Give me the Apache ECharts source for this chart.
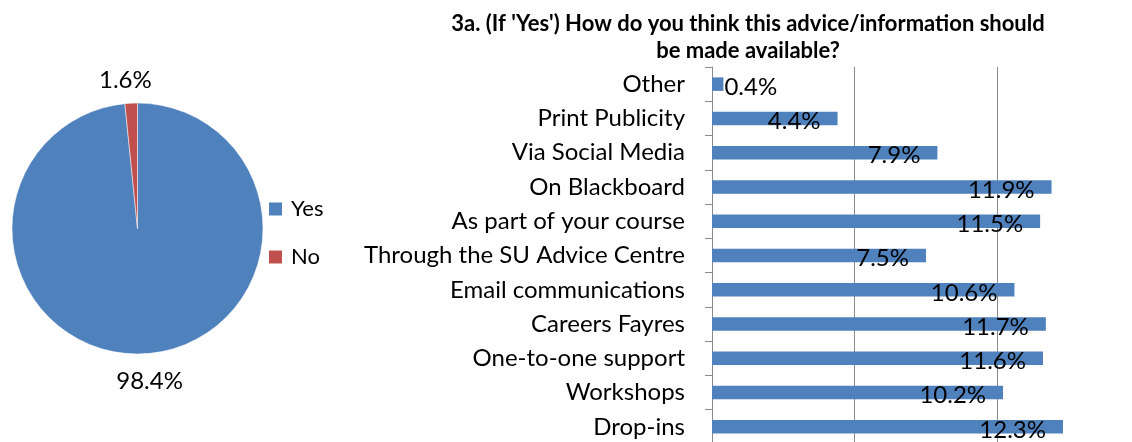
<!DOCTYPE html>
<html>
<head>
<meta charset="utf-8">
<script src="https://cdn.jsdelivr.net/npm/echarts@6/dist/echarts.min.js"></script>
<style>
  html, body { margin: 0; padding: 0; background: #fff; }
  #chart { width: 1132px; height: 442px; }
</style>
</head>
<body>
<div id="chart"></div>
<script>
// Pie: did respondents want the advice/information?
const pieNames = ['Yes', 'No'];
const pieValues = [98.4, 1.6];
const pieColors = ['#4F81BD', '#C0504D'];

// Bar: preferred ways of making it available (top to bottom)
const categories = [
  'Other', 'Print Publicity', 'Via Social Media', 'On Blackboard',
  'As part of your course', 'Through the SU Advice Centre',
  'Email communications', 'Careers Fayres', 'One-to-one support',
  'Workshops', 'Drop-ins'
];
const shares = [0.4, 4.4, 7.9, 11.9, 11.5, 7.5, 10.6, 11.7, 11.6, 10.2, 12.3];

const titleLines = [
  "3a. (If 'Yes') How do you think this advice/information should",
  'be made available?'
];

const FONT = 'Lato, "Liberation Sans", sans-serif';
const AXIS_GREY = '#8A8A8A';
const PIE_CENTER = [137.5, 228.5];
const PIE_RADIUS = 125.5;

// Place each pie label just beyond the rim, along the middle of its slice
function pieLabelPosition(idx) {
  const total = pieValues.reduce((a, b) => a + b, 0);
  let before = 0;
  for (let i = 0; i < idx; i++) before += pieValues[i];
  const midFrac = (before + pieValues[idx] / 2) / total;
  const ang = midFrac * 2 * Math.PI; // clockwise from 12 o'clock
  const d = PIE_RADIUS + 25;
  return {
    x: PIE_CENTER[0] + Math.sin(ang) * d * 1.6,
    y: PIE_CENTER[1] - Math.cos(ang) * d + 2
  };
}

const chart = echarts.init(document.getElementById('chart'), null, { renderer: 'canvas' });

chart.setOption({
  animation: false,
  backgroundColor: '#fff',
  textStyle: { fontFamily: FONT },
  title: {
    text: titleLines.join('\n'),
    left: 748,
    top: 10,
    textAlign: 'center',
    padding: 0,
    textStyle: { fontFamily: FONT, fontSize: 22, fontWeight: 'bold', color: '#000', lineHeight: 27 }
  },
  legend: {
    data: pieNames,
    orient: 'vertical',
    left: 267,
    top: 198,
    padding: 0,
    itemWidth: 15,
    itemHeight: 15,
    itemGap: 26,
    icon: 'rect',
    textStyle: { fontFamily: FONT, fontSize: 22, color: '#000', padding: [0, 0, 0, 3] }
  },
  grid: {
    left: 712,
    width: 428,
    top: 67,
    height: 377,
    outerBoundsMode: 'none'
  },
  xAxis: {
    type: 'value',
    min: 0,
    max: 15,
    interval: 5,
    axisLabel: { show: false },
    axisLine: { show: false },
    axisTick: { show: false },
    splitLine: { show: true, lineStyle: { color: AXIS_GREY, width: 1 } }
  },
  yAxis: {
    type: 'category',
    data: categories,
    inverse: true,
    axisLine: { show: true, lineStyle: { color: AXIS_GREY, width: 1 } },
    axisTick: { show: true, length: 7, lineStyle: { color: AXIS_GREY } },
    axisLabel: { fontFamily: FONT, fontSize: 24, color: '#000', margin: 27 }
  },
  series: [
    {
      type: 'pie',
      center: PIE_CENTER,
      radius: PIE_RADIUS,
      startAngle: 90,
      clockwise: true,
      data: pieNames.map((n, i) => ({
        name: n,
        value: pieValues[i],
        itemStyle: { color: pieColors[i] }
      })),
      itemStyle: { borderColor: '#fff', borderWidth: 0.5 },
      label: {
        show: true,
        position: 'outside',
        formatter: '{c}%',
        fontFamily: FONT,
        fontSize: 24,
        color: '#000'
      },
      labelLine: { show: false },
      labelLayout: function (params) {
        const p = pieLabelPosition(params.dataIndex);
        return { x: p.x, y: p.y, align: 'center', verticalAlign: 'middle' };
      },
      emphasis: { disabled: true }
    },
    {
      type: 'bar',
      name: 'Share',
      barWidth: 13.5,
      itemStyle: { color: '#4F81BD' },
      data: shares.map(v => ({
        value: v,
        label: v < 2
          ? { position: 'right', distance: 1 }
          : { position: 'insideRight', distance: 17 }
      })),
      label: {
        show: true,
        formatter: '{c}%',
        fontFamily: FONT,
        fontSize: 24,
        color: '#000',
        offset: [0, 3]
      },
      emphasis: { disabled: true }
    }
  ]
});
</script>
</body>
</html>
